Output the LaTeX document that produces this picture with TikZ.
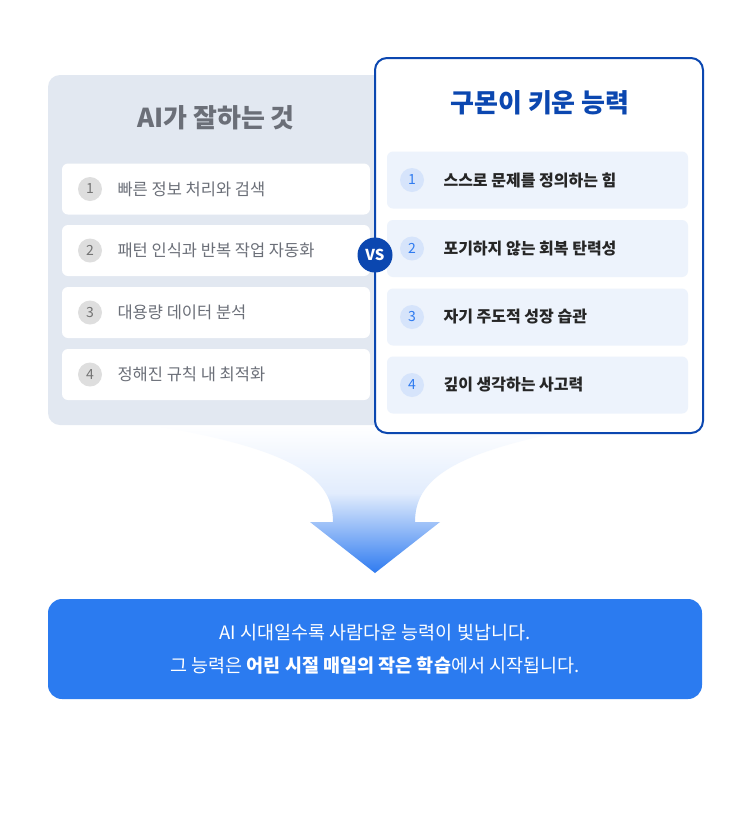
\documentclass[tikz,border=0pt]{standalone}
\usepackage{fontspec}
\setmainfont{Noto Sans CJK KR}
\usetikzlibrary{positioning, calc}
\definecolor{navy}{HTML}{0B47B0}
\definecolor{panelgray}{HTML}{E2E8F1}
\definecolor{rowblue}{HTML}{EDF3FC}
\definecolor{numblue}{HTML}{2F7BF0}
\definecolor{numbg}{HTML}{D6E4FB}
\definecolor{graytext}{HTML}{6B6F78}
\definecolor{banner}{HTML}{2B7BF0}
\pgfdeclareverticalshading{funnelshade}{100bp}{color(0bp)=(numblue); color(25bp)=(numblue); color(39bp)=(numblue!55!white); color(52bp)=(numblue!14!white); color(75bp)=(white); color(100bp)=(white)}

\begin{document}
\begin{tikzpicture}[x=1pt, y=-1pt,
    panel/.style={rectangle, rounded corners=12pt},
    airow/.style={rectangle, fill=white, rounded corners=6pt, minimum width=308pt, minimum height=51pt},
    ourrow/.style={rectangle, fill=rowblue, rounded corners=6pt, minimum width=301pt, minimum height=57pt},
    ainum/.style={circle, fill=black!13, minimum size=24pt, inner sep=0pt, text=black!55, font=\fontsize{14}{14}\selectfont},
    ournum/.style={circle, fill=numbg, minimum size=24pt, inner sep=0pt, text=numblue, font=\fontsize{14}{14}\selectfont},
    aitext/.style={anchor=west, text=graytext, font=\fontsize{16.5}{16.5}\selectfont},
    ourtext/.style={anchor=west, text=black!85, font=\bfseries\fontsize{16}{16}\selectfont}
]
\useasboundingbox[fill=white] (0,0) rectangle (750,820);

% Funnel arrow
\shade[shading=funnelshade] (150,425) .. controls (300,450) and (333,480) .. (333,522)
  -- (310,522) -- (375,573) -- (440,522) -- (415,522)
  .. controls (415,480) and (450,450) .. (600,425) -- cycle;

% AI panel
\fill[panelgray, panel] (48,75) rectangle (420,425);
\node[text=graytext, font=\bfseries\fontsize{26}{26}\selectfont] (aititle) at (216,118) {AI가 잘하는 것};
\foreach \i/\y/\t in {1/189/빠른 정보 처리와 검색, 2/250.5/패턴 인식과 반복 작업 자동화, 3/312.5/대용량 데이터 분석, 4/374.5/정해진 규칙 내 최적화}{
  \node[airow] (ai\i) at (216,\y) {};
  \node[ainum] (ainum\i) at (90,\y) {\i};
  \node[aitext] (aitext\i) at (114,\y) {\t};
}

% Our panel
\draw[navy, line width=2pt, fill=white, panel] (375,58) rectangle (703,433);
\node[text=navy, font=\bfseries\fontsize{26}{26}\selectfont] (ourtitle) at (540,103) {구몬이 키운 능력};
\foreach \i/\y/\t in {1/180/스스로 문제를 정의하는 힘, 2/248.5/포기하지 않는 회복 탄력성, 3/317/자기 주도적 성장 습관, 4/385/깊이 생각하는 사고력}{
  \node[ourrow] (our\i) at (537.5,\y) {};
  \node[ournum] (ournum\i) at (412,\y) {\i};
  \node[ourtext] (ourtext\i) at (440,\y) {\t};
}

% VS badge
\node[circle, fill=navy, minimum size=35pt, inner sep=0pt, text=white, font=\bfseries\itshape\fontsize{15}{15}\selectfont] (vs) at (375,255) {VS};

% Banner
\fill[banner, rounded corners=14pt] (48,599) rectangle (702,699);
\node[text=white, font=\fontsize{18.5}{18.5}\selectfont] (line1) at (375,633) {AI 시대일수록 사람다운 능력이 빛납니다.};
\node[text=white, font=\fontsize{18.5}{18.5}\selectfont] (line2) at (375,666) {그 능력은 \textbf{어린 시절 매일의 작은 학습}에서 시작됩니다.};
\end{tikzpicture}
\end{document}
